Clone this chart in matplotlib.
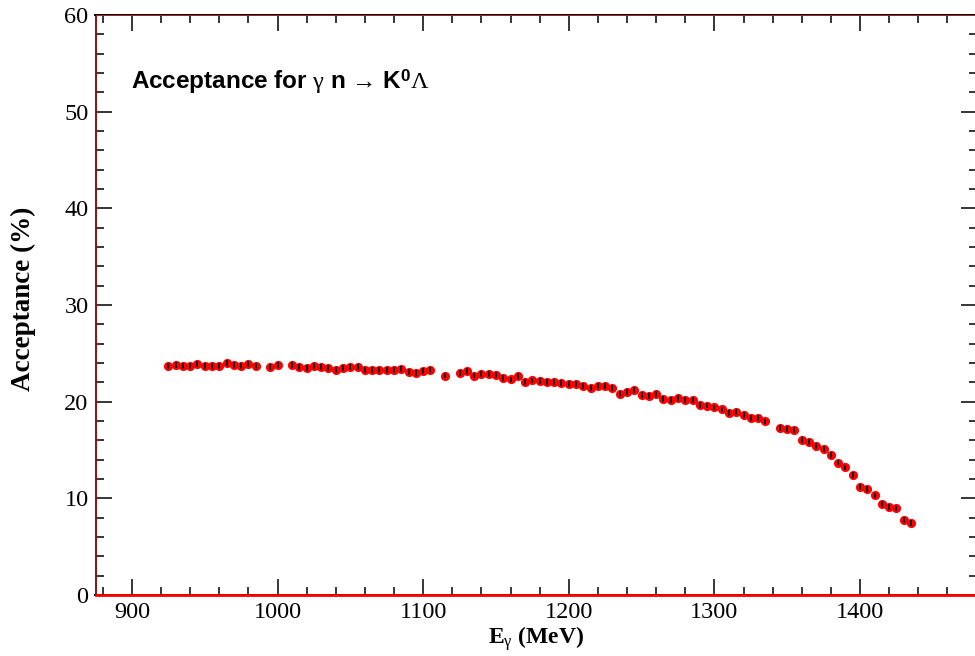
import numpy as np
import matplotlib
matplotlib.use("Agg")
import matplotlib.pyplot as plt
from matplotlib.ticker import MultipleLocator

# photon energy bins (MeV) and acceptance (%)
energy = [925, 930, 935, 940, 945, 950, 955, 960, 965, 970, 975, 980, 985,
          995, 1000, 1010, 1015, 1020, 1025, 1030, 1035, 1040, 1045, 1050,
          1055, 1060, 1065, 1070, 1075, 1080, 1085, 1090, 1095, 1100, 1105,
          1115, 1125, 1130, 1135, 1140, 1145, 1150, 1155, 1160, 1165, 1170,
          1175, 1180, 1185, 1190, 1195, 1200, 1205, 1210, 1215, 1220, 1225,
          1230, 1235, 1240, 1245, 1250, 1255, 1260, 1265, 1270, 1275, 1280,
          1285, 1290, 1295, 1300, 1305, 1310, 1315, 1320, 1325, 1330, 1335,
          1345, 1350, 1355, 1360, 1365, 1370, 1375, 1380, 1385, 1390, 1395,
          1400, 1405, 1410, 1415, 1420, 1425, 1430, 1435]
acceptance = [23.7, 23.8, 23.7, 23.7, 23.9, 23.7, 23.7, 23.7, 24.0, 23.8, 23.7,
              23.9, 23.7, 23.6, 23.8, 23.8, 23.6, 23.5, 23.7, 23.6, 23.5, 23.3,
              23.5, 23.6, 23.6, 23.3, 23.3, 23.3, 23.3, 23.3, 23.4, 23.05, 23.0,
              23.15, 23.3, 22.7, 22.95, 23.2, 22.7, 22.85, 22.85, 22.75, 22.45,
              22.3, 22.65, 22.0, 22.2, 22.15, 22.0, 22.0, 21.95, 21.85, 21.85,
              21.6, 21.45, 21.65, 21.65, 21.4, 20.8, 21.0, 21.2, 20.7, 20.55,
              20.8, 20.3, 20.2, 20.4, 20.2, 20.2, 19.65, 19.6, 19.4, 19.2, 18.8,
              18.9, 18.6, 18.3, 18.3, 17.95, 17.3, 17.2, 17.1, 16.0, 15.85,
              15.45, 15.1, 14.45, 13.7, 13.2, 12.4, 11.2, 10.95, 10.3, 9.45,
              9.1, 8.95, 7.8, 7.45]
acc_err = 0.3

x_range = (875, 1480)
y_range = (0, 60)
x_ticks = [900, 1000, 1100, 1200, 1300, 1400]
y_ticks = [0, 10, 20, 30, 40, 50, 60]

plt.rcParams["mathtext.fontset"] = "custom"
plt.rcParams["mathtext.rm"] = "Liberation Serif"
plt.rcParams["mathtext.it"] = "Liberation Serif:italic"
plt.rcParams["mathtext.bf"] = "Liberation Sans:bold"

fig = plt.figure(figsize=(9.75, 6.56), dpi=100)
ax = fig.add_axes([95.5 / 975, 61 / 656, 881 / 975, 580 / 656])

# red dots with the black error bar drawn over them
ax.plot(energy, acceptance, "o", color="red", markersize=6.6,
        markeredgewidth=0, zorder=3)
ax.errorbar(energy, acceptance, yerr=acc_err, fmt="none", ecolor="black",
            elinewidth=1.3, capsize=0, zorder=4)

ax.set_xlim(*x_range)
ax.set_ylim(*y_range)
ax.set_xticks(x_ticks)
ax.set_yticks(y_ticks)
ax.xaxis.set_minor_locator(MultipleLocator(20))
ax.yaxis.set_minor_locator(MultipleLocator(2))

ax.tick_params(which="both", direction="in", top=True, right=True, width=1.1,
               labelsize=17.5, pad=5)
ax.tick_params(which="major", length=11.5)
ax.tick_params(which="minor", length=5.8)
for lab in ax.get_xticklabels() + ax.get_yticklabels():
    lab.set_fontfamily("Liberation Serif")

for side in ax.spines:
    ax.spines[side].set_linewidth(1.4)
    ax.spines[side].set_color("black")
ax.spines["left"].set_color("#8b1010")
# zero line in red, frame edges tinted like the original
ax.axhline(0, color="red", lw=2.0, zorder=5, clip_on=False)
ax.axhline(60, color="#c03030", lw=0.6, zorder=5, clip_on=False)

ax.set_xlabel(r"E$_\mathrm{\gamma}$ (MeV)", fontsize=17, fontweight="bold",
              fontfamily="Liberation Serif", labelpad=1)
ax.set_ylabel("Acceptance (%)", fontsize=19.5, fontweight="bold",
              fontfamily="Liberation Serif")
ax.yaxis.set_label_coords(-0.068, 0.51)

fig.text(130.7 / 975, (656 - 89) / 656,
         r"Acceptance for $\mathrm{\gamma}$ n → K$^\mathbf{0}$$\mathrm{\Lambda}$",
         fontsize=17.5, fontweight="bold", fontfamily="Liberation Sans",
         va="baseline", ha="left")

fig.savefig("out.png", dpi=100)
plt.close(fig)
